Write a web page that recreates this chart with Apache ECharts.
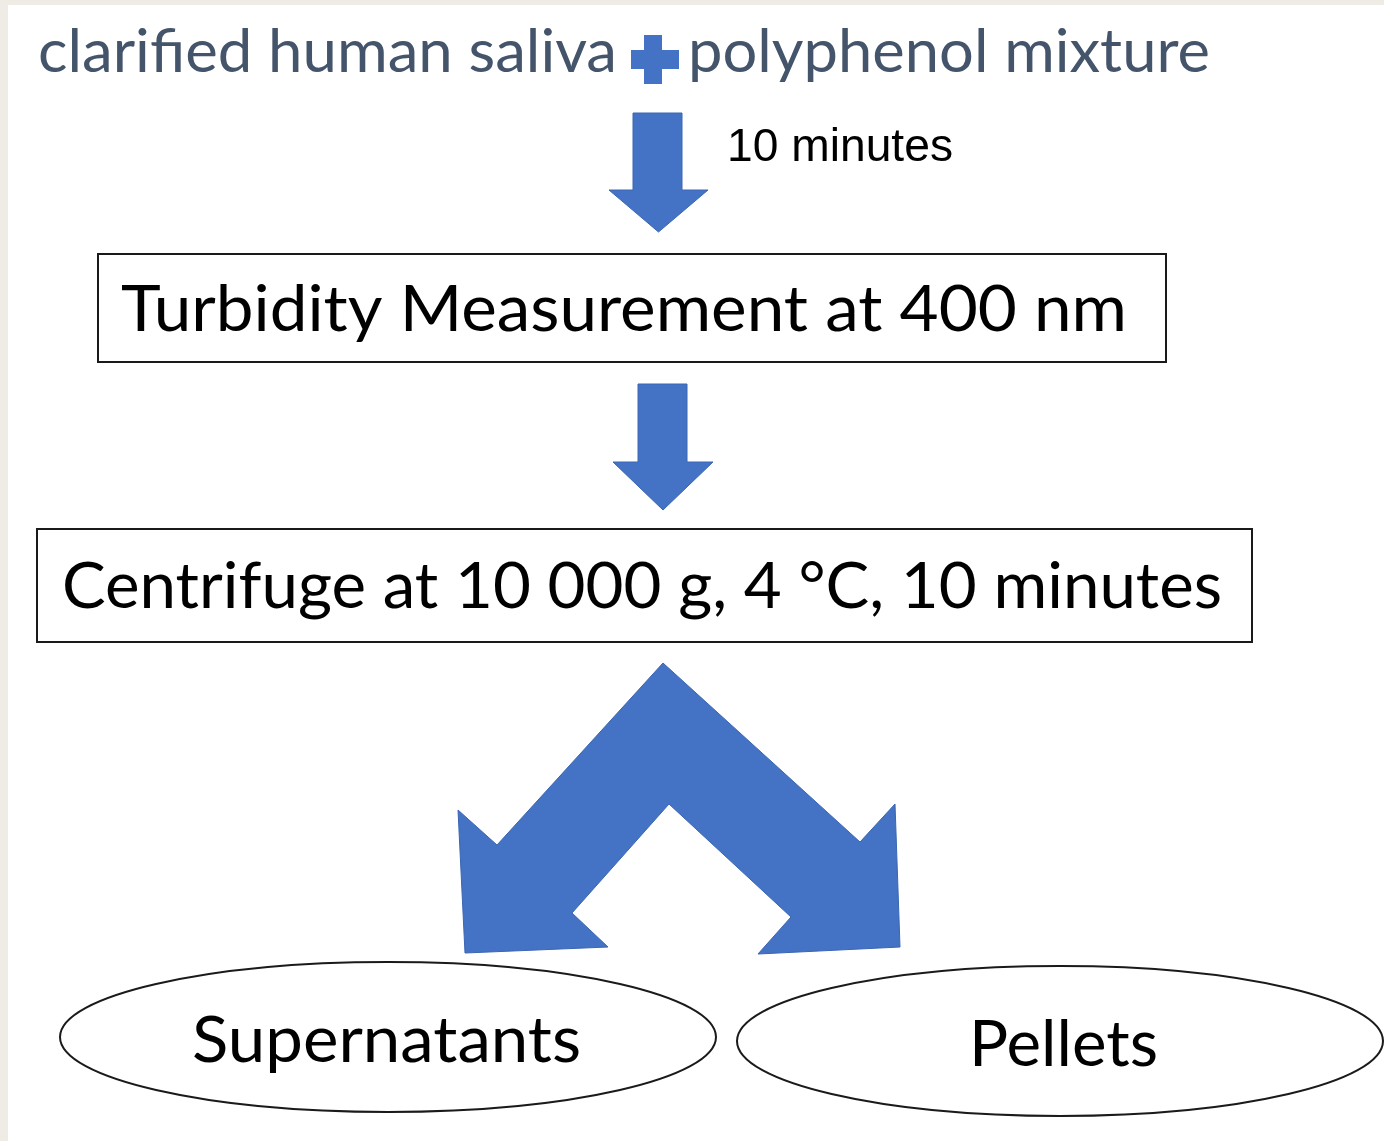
<!DOCTYPE html>
<html>
<head>
<meta charset="utf-8">
<script src="https://cdn.jsdelivr.net/npm/echarts@6/dist/echarts.min.js"></script>
<style>
  html, body { margin: 0; padding: 0; background: #eeece4; }
  #main { width: 1384px; height: 1141px; }
</style>
</head>
<body>
<div id="main"></div>
<script>
// texts of the flow
const titleParts = ['clarified human saliva', 'polyphenol mixture'];
const stepNote = '10 minutes';
const steps = ['Turbidity Measurement at 400 nm', 'Centrifuge at 10 000 g, 4 °C, 10 minutes'];
const outcomes = ['Supernatants', 'Pellets'];

const BLUE = '#4472c4';
const BLUE_EDGE = '#3b66b3';
const LINE = '#1a1a1a';
const BODY_FONT = 'Lato, "Open Sans", sans-serif';

// measure text so it can be stretched to the width seen in the picture
const ctx = document.createElement('canvas').getContext('2d');
function fitText(str, left, right, baseline, size, family, color) {
  ctx.font = size + 'px ' + family;
  const w = ctx.measureText(str).width;
  return {
    type: 'text',
    x: left,
    y: baseline + size * 0.165, // bottom of the line box sits a bit under the baseline
    scaleX: (right - left) / w,
    style: {
      text: str,
      fontSize: size,
      fontFamily: family,
      fill: color,
      align: 'left',
      verticalAlign: 'bottom'
    }
  };
}

function downArrow(l, r, top, headY, hl, hr, tipY) {
  const cx = (hl + hr) / 2;
  return {
    type: 'polygon',
    shape: { points: [[l, top], [r, top], [r, headY], [hr, headY], [cx, tipY], [hl, headY], [l, headY]] },
    style: { fill: BLUE, stroke: BLUE_EDGE, lineWidth: 1 }
  };
}

const chart = echarts.init(document.getElementById('main'));

const graphic = [
  // white page
  { type: 'rect', shape: { x: 8, y: 5, width: 1376, height: 1136 }, style: { fill: '#ffffff' } },

  // title line
  fitText(titleParts[0], 38, 617, 73, 60, BODY_FONT, '#44546a'),
  { type: 'rect', shape: { x: 631, y: 50, width: 48, height: 19 }, style: { fill: BLUE } },
  { type: 'rect', shape: { x: 644, y: 35, width: 18, height: 49 }, style: { fill: BLUE } },
  fitText(titleParts[1], 688, 1210, 73, 60, BODY_FONT, '#44546a'),

  // first arrow + note
  downArrow(633, 682, 113, 190, 609, 708, 232),
  fitText(stepNote, 727, 953, 164, 46, '"Liberation Sans", Arial, sans-serif', '#000000'),

  // step 1
  { type: 'rect', shape: { x: 98, y: 254, width: 1068, height: 108 }, style: { fill: '#ffffff', stroke: LINE, lineWidth: 2 } },
  fitText(steps[0], 121, 1127, 332, 63, BODY_FONT, '#000000'),

  // second arrow
  downArrow(638, 687, 384, 462, 613, 713, 510),

  // step 2
  { type: 'rect', shape: { x: 37, y: 529, width: 1215, height: 113 }, style: { fill: '#ffffff', stroke: LINE, lineWidth: 2 } },
  fitText(steps[1], 62, 1222, 609, 63, BODY_FONT, '#000000'),

  // split arrow
  {
    type: 'polygon',
    shape: {
      points: [
        [663, 663], [860, 842], [895, 804], [900, 947], [758, 954], [791, 917],
        [669, 804], [572, 913], [608, 947], [465, 953], [458, 810], [497, 845]
      ]
    },
    style: { fill: BLUE, stroke: BLUE_EDGE, lineWidth: 1 }
  },

  // outcomes
  { type: 'ellipse', shape: { cx: 388, cy: 1037, rx: 328, ry: 75 }, style: { fill: '#ffffff', stroke: LINE, lineWidth: 2 } },
  fitText(outcomes[0], 192, 581, 1063, 63, BODY_FONT, '#000000'),
  { type: 'ellipse', shape: { cx: 1060, cy: 1041, rx: 323, ry: 75 }, style: { fill: '#ffffff', stroke: LINE, lineWidth: 2 } },
  fitText(outcomes[1], 969, 1158, 1067, 63, BODY_FONT, '#000000')
];

const option = {
  backgroundColor: '#eeece4',
  animation: false,
  graphic: graphic
};
option && chart.setOption(option);
</script>
</body>
</html>
